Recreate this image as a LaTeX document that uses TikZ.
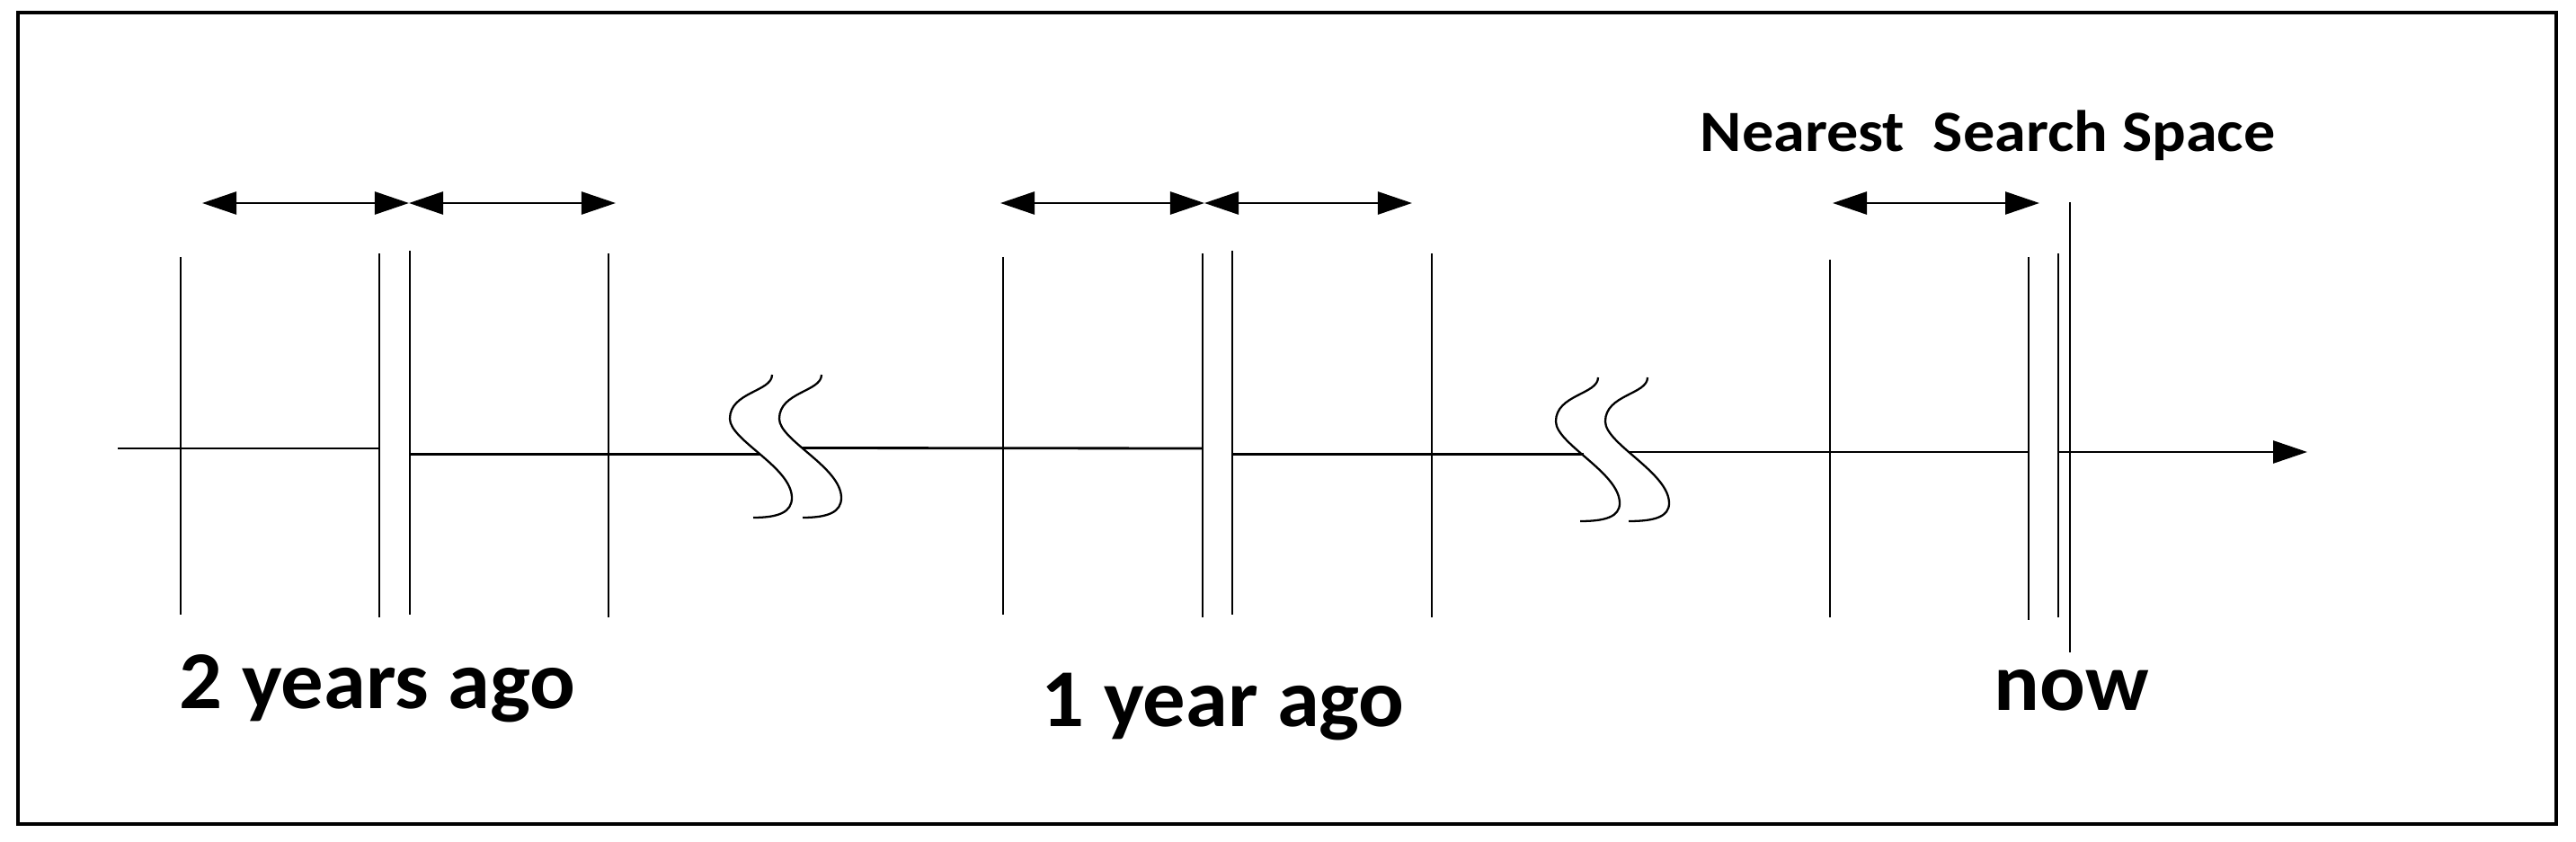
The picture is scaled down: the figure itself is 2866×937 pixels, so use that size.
\documentclass[tikz,border=0pt]{standalone}
\usepackage{graphicx}
\usepackage{fontspec}
\setmainfont{Carlito}
\usetikzlibrary{arrows.meta}
\tikzset{
    tickline/.style={line width=0.8pt},
    spanarrow/.style={line width=0.8pt,{Triangle[length=3.8mm,width=2.5mm]}-{Triangle[length=3.8mm,width=2.5mm]}},
    axisarrow/.style={line width=0.8pt,-{Triangle[length=3.8mm,width=2.5mm]}},
    breakline/.style={line width=0.65pt},
    yearlbl/.style={inner sep=0pt,anchor=base west,font=\bfseries\fontsize{26}{30}\selectfont},
    spacelbl/.style={inner sep=0pt,anchor=base west,font=\bfseries\fontsize{18.5}{22}\selectfont}
}
\begin{document}
\begin{tikzpicture}[x=0.01cm,y=-0.01cm]
    \useasboundingbox (0,0) rectangle (2866,937);
    \draw[line width=1.15pt] (20,14) rectangle (2844,917);
    % ticks, 2 years ago
    \coordinate (a1t) at (201,286); \coordinate (a1b) at (201,684);
    \coordinate (a2t) at (422,282); \coordinate (a2b) at (422,687);
    \coordinate (a3t) at (456,279); \coordinate (a3b) at (456,684);
    \coordinate (a4t) at (677,282); \coordinate (a4b) at (677,687);
    % ticks, 1 year ago
    \coordinate (b1t) at (1116,286); \coordinate (b1b) at (1116,684);
    \coordinate (b2t) at (1338,282); \coordinate (b2b) at (1338,687);
    \coordinate (b3t) at (1371,279); \coordinate (b3b) at (1371,684);
    \coordinate (b4t) at (1593,282); \coordinate (b4b) at (1593,687);
    % ticks, now
    \coordinate (c1t) at (2036,289); \coordinate (c1b) at (2036,687);
    \coordinate (c2t) at (2257,286); \coordinate (c2b) at (2257,690);
    \coordinate (c3t) at (2290,282); \coordinate (c3b) at (2290,687);
    \coordinate (c4t) at (2303,225); \coordinate (c4b) at (2303,726);
    \path [tickline](a1t) edge (a1b);
    \path [tickline](a2t) edge (a2b);
    \path [tickline](a3t) edge (a3b);
    \path [tickline](a4t) edge (a4b);
    \path [tickline](b1t) edge (b1b);
    \path [tickline](b2t) edge (b2b);
    \path [tickline](b3t) edge (b3b);
    \path [tickline](b4t) edge (b4b);
    \path [tickline](c1t) edge (c1b);
    \path [tickline](c2t) edge (c2b);
    \path [tickline](c3t) edge (c3b);
    \path [tickline](c4t) edge (c4b);
    % time axis
    \coordinate (x0) at (131,499);  \coordinate (x1) at (422,499);
    \coordinate (x2) at (456,505.5); \coordinate (x3) at (846,505.5);
    \coordinate (x4) at (892,498.5); \coordinate (x5) at (1338,499);
    \coordinate (x6) at (1371,505.5); \coordinate (x7) at (1762,505.5);
    \coordinate (x8) at (1813,503); \coordinate (x9) at (2257,503);
    \coordinate (x10) at (2290,503); \coordinate (x11) at (2567,503);
    \path [tickline](x0) edge (x1);
    \path [tickline](x2) edge (x3);
    \path [tickline](x4) edge (x5);
    \path [tickline](x6) edge (x7);
    \path [tickline](x8) edge (x9);
    \path [axisarrow](x10) edge (x11);
    % breaks
    \draw[breakline,shift={(859,417)}] (0,0) .. controls (0,19) and (-47,19) .. (-47,49) .. controls (-47,73) and (22,103) .. (22,137) .. controls (22,153) and (7,159) .. (-21,159);
    \draw[breakline,shift={(914,417)}] (0,0) .. controls (0,19) and (-47,19) .. (-47,49) .. controls (-47,73) and (22,103) .. (22,137) .. controls (22,153) and (7,159) .. (-21,159);
    \draw[breakline,shift={(1778,420)}] (0,0) .. controls (0,19) and (-47,19) .. (-47,49) .. controls (-47,74) and (24,106) .. (24,140) .. controls (24,155) and (8,160) .. (-20,160);
    \draw[breakline,shift={(1833,420)}] (0,0) .. controls (0,19) and (-47,19) .. (-47,49) .. controls (-47,74) and (24,106) .. (24,140) .. controls (24,155) and (8,160) .. (-21,160);
    % search spaces
    \coordinate (s1) at (225,226);  \coordinate (s2) at (455,226);  \coordinate (s3) at (685,226);
    \coordinate (s4) at (1113,226); \coordinate (s5) at (1340,226); \coordinate (s6) at (1571,226);
    \coordinate (s7) at (2039,226); \coordinate (s8) at (2269,226);
    \path [spanarrow](s1) edge (s2);
    \path [spanarrow](s2) edge (s3);
    \path [spanarrow](s4) edge (s5);
    \path [spanarrow](s5) edge (s6);
    \path [spanarrow](s7) edge (s8);
    % labels
    \node[spacelbl] (nss) at (1891,169) {\scalebox{1.08}[1]{Nearest\ \ Search Space}};
    \node[yearlbl] (two) at (199,788) {\scalebox{1.035}[1]{2 years ago}};
    \node[yearlbl] (one) at (1158,808) {\scalebox{1.035}[1]{1 year ago}};
    \node[yearlbl] (now) at (2218,790) {\scalebox{1.035}[1]{now}};
\end{tikzpicture}
\end{document}
